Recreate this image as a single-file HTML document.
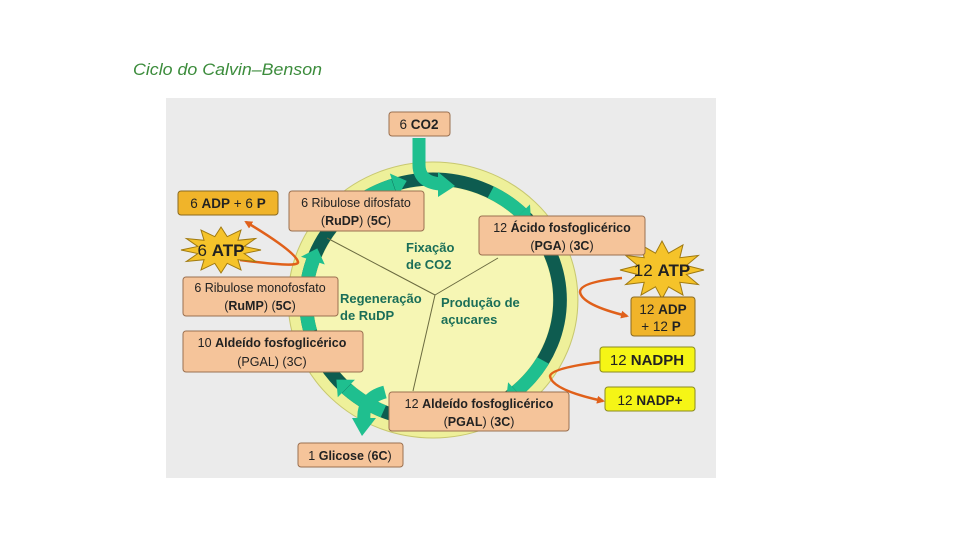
<!DOCTYPE html>
<html><head><meta charset="utf-8"><style>
html,body{margin:0;padding:0;background:#fff;}
svg{display:block;}
text{font-family:"Liberation Sans",sans-serif;}
</style></head><body>
<svg width="960" height="540" viewBox="0 0 960 540" xmlns="http://www.w3.org/2000/svg">
<text x="133" y="75" font-size="17" font-style="italic" fill="#3c8c3c" textLength="189" lengthAdjust="spacingAndGlyphs">Ciclo do Calvin–Benson</text>
<rect x="166" y="98" width="550" height="380" fill="#ebebeb"/>
<defs>
<marker id="ah" markerWidth="8" markerHeight="8" refX="6" refY="4" orient="auto" markerUnits="userSpaceOnUse"><path d="M0,0 L8,4 L0,8 z" fill="#e0601a"/></marker>
</defs>
<g transform="translate(433,300) scale(1.05,1)">
<circle r="138" fill="#eef09a" stroke="#c8c870" stroke-width="1"/>
<circle r="114" fill="#f6f6b4"/>
<circle r="121" fill="none" stroke="#0e5c50" stroke-width="13"/>
<g fill="none" stroke="#1fbf8f" stroke-width="13">
<circle r="121" transform="rotate(-129)" stroke-dasharray="44 1000"/>
<circle r="121" transform="rotate(-63)" stroke-dasharray="36 1000"/>
<circle r="121" transform="rotate(30)" stroke-dasharray="40 1000"/>
<circle r="121" transform="rotate(113)" stroke-dasharray="42 1000"/>
<circle r="121" transform="rotate(165)" stroke-dasharray="30 1000"/>
<circle r="121" transform="rotate(186)" stroke-dasharray="28 1000"/>
</g>
<g fill="#1fbf8f">
<polygon transform="rotate(-108)" points="109,0 133,0 121,13"/>
<polygon transform="rotate(-46)" points="109,0 133,0 121,13"/>
<polygon transform="rotate(49)" points="109,0 133,0 121,13"/>
<polygon transform="rotate(133)" points="109,0 133,0 121,13"/>
<polygon transform="rotate(179)" points="109,0 133,0 121,13"/>
<polygon transform="rotate(199)" points="109,0 133,0 121,13"/>
</g>
</g>
<g stroke="#6b6b40" stroke-width="1" fill="none">
<line x1="435" y1="295" x2="327" y2="238"/>
<line x1="435" y1="295" x2="498" y2="258"/>
<line x1="435" y1="295" x2="413" y2="391"/>
</g>
<!-- CO2 arrow -->
<path d="M419,138 L419,165 Q419,182 440,184" fill="none" stroke="#1fbf8f" stroke-width="13"/>
<polygon points="438,172 438,197 455,186" fill="#1fbf8f"/>
<!-- glucose arrow -->
<path d="M385,392 Q362,398 364,420" fill="none" stroke="#1fbf8f" stroke-width="13"/>
<polygon points="352,418 376,418 362,436" fill="#1fbf8f"/>
<!-- orange arrows -->
<g fill="none" stroke="#e0601a" stroke-width="2.5">
<path d="M240,260 Q300,268 298,262 Q296,252 246,222" marker-end="url(#ah)"/>
<path d="M622,278 Q580,282 580,292 Q582,305 627,316" marker-end="url(#ah)"/>
<path d="M600,362 Q552,368 550,376 Q552,390 603,401" marker-end="url(#ah)"/>
</g>
<!-- stars -->
<g fill="#f5c32a" stroke="#a07a10" stroke-width="1">
<polygon transform="translate(221,250) scale(40,23)" vector-effect="non-scaling-stroke" points="1,0 .58,.155 .866,.5 .424,.424 .5,.866 .155,.58 0,1 -.155,.58 -.5,.866 -.424,.424 -.866,.5 -.58,.155 -1,0 -.58,-.155 -.866,-.5 -.424,-.424 -.5,-.866 -.155,-.58 0,-1 .155,-.58 .5,-.866 .424,-.424 .866,-.5 .58,-.155"/>
<polygon transform="translate(662,270) scale(42,29)" vector-effect="non-scaling-stroke" points="1,0 .58,.155 .866,.5 .424,.424 .5,.866 .155,.58 0,1 -.155,.58 -.5,.866 -.424,.424 -.866,.5 -.58,.155 -1,0 -.58,-.155 -.866,-.5 -.424,-.424 -.5,-.866 -.155,-.58 0,-1 .155,-.58 .5,-.866 .424,-.424 .866,-.5 .58,-.155"/>
</g>
<text x="221" y="256" font-family="Liberation Serif" font-size="17" text-anchor="middle" fill="#222"><tspan>6 </tspan><tspan font-weight="bold">ATP</tspan></text>
<text x="662" y="276" font-family="Liberation Serif" font-size="17" text-anchor="middle" fill="#222"><tspan>12 </tspan><tspan font-weight="bold">ATP</tspan></text>
<!-- boxes -->
<g fill="#f5c49a" stroke="#9a7050" stroke-width="1">
<rect x="389" y="112" width="61" height="24" rx="3"/>
<rect x="289" y="191" width="135" height="40" rx="3"/>
<rect x="479" y="216" width="166" height="39" rx="3"/>
<rect x="183" y="277" width="155" height="39" rx="3"/>
<rect x="183" y="331" width="180" height="41" rx="3"/>
<rect x="389" y="392" width="180" height="39" rx="3"/>
<rect x="298" y="443" width="105" height="24" rx="3"/>
</g>
<g fill="#f0b42a" stroke="#8a6a20" stroke-width="1">
<rect x="178" y="191" width="100" height="24" rx="3"/>
<rect x="631" y="297" width="64" height="39" rx="3"/>
</g>
<g fill="#f5f516" stroke="#8a8a20" stroke-width="1">
<rect x="600" y="347" width="95" height="25" rx="3"/>
<rect x="605" y="387" width="90" height="24" rx="3"/>
</g>
<g font-size="13.5" fill="#222" text-anchor="middle">
<text x="419" y="129"><tspan>6 </tspan><tspan font-weight="bold">CO2</tspan></text>
<text x="228" y="208"><tspan>6 </tspan><tspan font-weight="bold">ADP</tspan><tspan> + 6 </tspan><tspan font-weight="bold">P</tspan></text>
<text x="356" y="207" font-size="12.5">6 Ribulose difosfato</text>
<text x="356" y="225" font-size="12.5">(<tspan font-weight="bold">RuDP</tspan>) (<tspan font-weight="bold">5C</tspan>)</text>
<text x="562" y="232" font-size="12.5">12 <tspan font-weight="bold">Ácido fosfoglicérico</tspan></text>
<text x="562" y="250" font-size="12.5">(<tspan font-weight="bold">PGA</tspan>) (<tspan font-weight="bold">3C</tspan>)</text>
<text x="260" y="292" font-size="12.5">6 Ribulose monofosfato</text>
<text x="260" y="310" font-size="12.5">(<tspan font-weight="bold">RuMP</tspan>) (<tspan font-weight="bold">5C</tspan>)</text>
<text x="272" y="347" font-size="12.5">10 <tspan font-weight="bold">Aldeído fosfoglicérico</tspan></text>
<text x="272" y="366" font-size="12.5">(PGAL) (3C)</text>
<text x="479" y="408" font-size="12.5">12 <tspan font-weight="bold">Aldeído fosfoglicérico</tspan></text>
<text x="479" y="426" font-size="12.5">(<tspan font-weight="bold">PGAL</tspan>) (<tspan font-weight="bold">3C</tspan>)</text>
<text x="350" y="460" font-size="12.5">1 <tspan font-weight="bold">Glicose</tspan> (<tspan font-weight="bold">6C</tspan>)</text>
<text x="663" y="314"><tspan>12 </tspan><tspan font-weight="bold">ADP</tspan></text>
<text x="661" y="331">+ 12 <tspan font-weight="bold">P</tspan></text>
<text x="647" y="365" font-family="Liberation Serif" font-size="15"><tspan>12 </tspan><tspan font-weight="bold">NADPH</tspan></text>
<text x="650" y="405">12 <tspan font-weight="bold">NADP+</tspan></text>
</g>
<g font-size="13" font-weight="bold" fill="#1a6e58">
<text x="406" y="252">Fixação</text>
<text x="406" y="269">de CO2</text>
<text x="340" y="303">Regeneração</text>
<text x="340" y="320">de RuDP</text>
<text x="441" y="307">Produção de</text>
<text x="441" y="324">açucares</text>
</g>
</svg>
</body></html>
